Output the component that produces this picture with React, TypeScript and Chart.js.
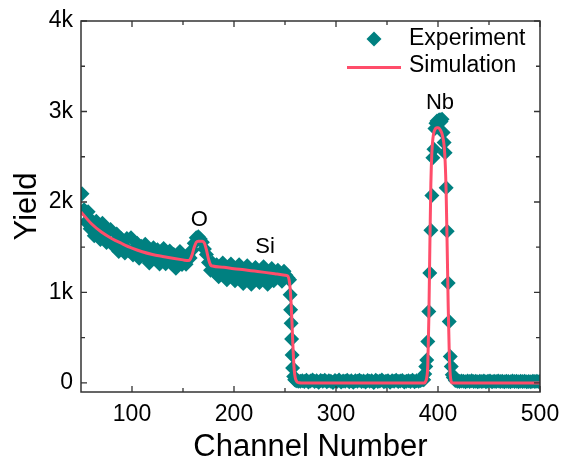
import React, { useEffect, useRef } from 'react';
import { Chart, registerables } from 'chart.js';

Chart.register(...registerables);

// ---------- data ----------
const expChannel = [
  51, 53, 55, 57, 59, 61, 63, 65, 67, 69,
  71, 73, 75, 77, 79, 81, 83, 85, 87, 89,
  91, 93, 95, 97, 99, 101, 103, 105, 107, 109,
  111, 113, 115, 117, 119, 121, 123, 125, 127, 129,
  131, 133, 135, 137, 139, 141, 143, 145, 147, 149,
  151, 153, 155, 157, 159, 161, 163, 165, 167, 169,
  171, 173, 175, 177, 179,
  181, 183, 185, 187, 189, 191, 193, 195, 197, 199,
  201, 203, 205, 207, 209, 211, 213, 215, 217, 219,
  221, 223, 225, 227, 229, 231, 233, 235, 237, 239,
  241, 243, 245, 247, 249, 251, 253,
  254.5, 255, 255.5, 256, 256.5, 257, 257.5, 258.5, 259.5, 261, 263, 265,
  267, 269, 271, 273, 275, 277, 279, 281, 283, 285,
  287, 289, 291, 293, 295, 297, 299, 301, 303, 305,
  307, 309, 311, 313, 315, 317, 319, 321, 323, 325,
  327, 329, 331, 333, 335, 337, 339, 341, 343, 345,
  347, 349, 351, 353, 355, 357, 359, 361, 363, 365,
  367, 369, 371, 373, 375, 377, 379, 381, 383, 385,
  386, 387, 388, 389, 390, 391, 392, 393, 394, 395,
  396, 397, 398, 399, 400, 401, 402, 403, 404, 405,
  406, 407, 408, 409, 410, 411, 412, 413, 414,
  415, 417, 419, 421, 423, 425, 427, 429, 431, 433,
  435, 437, 439, 441, 443, 445, 447, 449, 451, 453,
  455, 457, 459, 461, 463, 465, 467, 469, 471, 473,
  475, 477, 479, 481, 483, 485, 487, 489, 491, 493,
  495, 497, 499, 500,
];

const expYield = [
  2090, 1915, 1780, 1891, 1703, 1789, 1626, 1788, 1703, 1584,
  1764, 1612, 1552, 1679, 1697, 1525, 1560, 1646, 1453, 1598,
  1567, 1436, 1596, 1461, 1604, 1414, 1485, 1543, 1379, 1511,
  1412, 1533, 1371, 1326, 1458, 1494, 1367, 1472, 1315, 1415,
  1485, 1318, 1352, 1457, 1318, 1420, 1268, 1399, 1452, 1310,
  1385, 1312, 1415, 1380, 1470, 1545, 1605, 1615, 1590, 1555,
  1480, 1420, 1330, 1245, 1325,
  1225, 1305, 1175, 1255, 1325, 1205, 1140, 1285, 1315, 1195,
  1130, 1265, 1305, 1165, 1100, 1235, 1295, 1175, 1090, 1215,
  1275, 1145, 1110, 1245, 1285, 1155, 1090, 1215, 1265, 1130,
  1165, 1245, 1200, 1125, 1235, 1190, 1160,
  1140, 975, 810, 660, 485, 310, 165, 70, 35, 24, 20, 19,
  24, 16, 29, 11, 22, 33, 15, 25, 9, 27,
  18, 31, 13, 24, 20, 6, 27, 16, 33, 11,
  22, 18, 29, 13, 24, 9, 25, 20, 31, 15,
  22, 11, 27, 18, 24, 6, 29, 16, 22, 33,
  13, 20, 25, 9, 24, 18, 31, 15, 22, 27,
  11, 20, 25, 16, 29, 13, 24, 18, 27, 38,
  35, 100, 181, 255, 458, 790, 1215, 1688, 2072, 2490,
  2582, 2811, 2870, 2896, 2880, 2905, 2910, 2890, 2914, 2767,
  2656, 2545, 2157, 1676, 1105, 679, 291, 181, 90,
  60, 28, 20, 16, 22, 18, 14, 21, 17, 23,
  15, 19, 12, 20, 16, 22, 14, 18, 21, 13,
  19, 16, 22, 15, 18, 12, 20, 17, 14, 21,
  16, 19, 13, 18, 15, 20, 14, 17, 12, 19,
  16, 18, 14, 17,
];

const simChannel = [
  50, 60, 70, 80, 90, 100, 110, 120, 130, 140,
  150, 155, 157, 159, 161, 163, 165, 169, 171, 173,
  175, 177, 179, 190, 200, 210, 220, 230, 240, 250,
  252, 253, 254, 255, 256, 257, 258, 259, 260, 261,
  262, 264, 266, 387, 388, 389, 390, 391, 392, 393,
  394, 395, 396, 397, 398, 399, 400, 401, 402, 403,
  404, 405, 406, 407, 408, 409, 410, 411, 412, 413,
  414, 500,
];

const simYield = [
  1890, 1762, 1668, 1597, 1541, 1490, 1450, 1420, 1398, 1378,
  1360, 1352, 1365, 1420, 1500, 1555, 1567, 1567, 1545, 1470,
  1370, 1305, 1292, 1278, 1262, 1250, 1236, 1222, 1207, 1190,
  1185, 1178, 1140, 1050, 880, 620, 350, 150, 60, 25,
  10, 2, 0, 0, 20, 60, 200, 700, 1500, 2200,
  2550, 2700, 2770, 2800, 2815, 2820, 2820, 2815, 2800, 2780,
  2750, 2700, 2620, 2450, 2100, 1500, 850, 350, 90, 15,
  0, 0,
];

const xMajorTicks = [100, 200, 300, 400, 500];
const xMinorTicks = [150, 250, 350, 450];
const yMajorTicks = [0, 1000, 2000, 3000, 4000];
const yMinorTicks = [500, 1500, 2500, 3500];
const yTickLabels = ['0', '1k', '2k', '3k', '4k'];

const peakLabels = ['O', 'Si', 'Nb'];
const peakLabelChannel = [166, 230.5, 402];
const peakLabelYield = [1798, 1500, 3099];

const legendLabels = ['Experiment', 'Simulation'];

// ---------- style ----------
const FONT = '"Liberation Sans", Arial, Helvetica, sans-serif';
const TEAL = '#008080';
const SIM = '#ff4d6a';
const AXIS = '#333333';

const overlayPlugin = {
  id: 'overlay',
  afterDraw(chart: any) {
    const { ctx, chartArea } = chart;
    const xs = chart.scales.x;
    const ys = chart.scales.y;
    const { left, right, top, bottom } = chartArea;
    ctx.save();
    ctx.strokeStyle = AXIS;
    ctx.lineWidth = 1.5;
    ctx.strokeRect(left, top, right - left, bottom - top);
    const tick = (vals: number[], len: number) => {
      ctx.beginPath();
      vals.forEach((v) => {
        const px = xs.getPixelForValue(v);
        ctx.moveTo(px, bottom);
        ctx.lineTo(px, bottom - len);
        ctx.moveTo(px, top);
        ctx.lineTo(px, top + len);
      });
      ctx.stroke();
    };
    const tickY = (vals: number[], len: number) => {
      ctx.beginPath();
      vals.forEach((v) => {
        const py = ys.getPixelForValue(v);
        ctx.moveTo(left, py);
        ctx.lineTo(left + len, py);
        ctx.moveTo(right, py);
        ctx.lineTo(right - len, py);
      });
      ctx.stroke();
    };
    ctx.lineWidth = 1.3;
    tick(xMajorTicks, 6);
    tick(xMinorTicks, 4);
    tickY(yMajorTicks, 6);
    tickY(yMinorTicks, 4);

    ctx.fillStyle = '#000';
    ctx.font = `22px ${FONT}`;
    ctx.textAlign = 'center';
    ctx.textBaseline = 'middle';
    peakLabels.forEach((t, i) => {
      ctx.fillText(t, xs.getPixelForValue(peakLabelChannel[i]), ys.getPixelForValue(peakLabelYield[i]));
    });

    const dx = right - 166;
    const dy = top + 18;
    ctx.fillStyle = TEAL;
    ctx.beginPath();
    ctx.moveTo(dx, dy - 7.5);
    ctx.lineTo(dx + 7.5, dy);
    ctx.lineTo(dx, dy + 7.5);
    ctx.lineTo(dx - 7.5, dy);
    ctx.closePath();
    ctx.fill();
    ctx.strokeStyle = SIM;
    ctx.lineWidth = 3;
    ctx.beginPath();
    ctx.moveTo(right - 193, top + 46.5);
    ctx.lineTo(right - 139, top + 46.5);
    ctx.stroke();
    ctx.fillStyle = '#000';
    ctx.font = `23px ${FONT}`;
    ctx.textAlign = 'left';
    ctx.fillText(legendLabels[0], right - 131, top + 17.5);
    ctx.fillText(legendLabels[1], right - 131, top + 45);
    ctx.restore();
  },
};

export default function App() {
  const ref = useRef<HTMLCanvasElement | null>(null);
  useEffect(() => {
    if (!ref.current) return;
    const expData = expChannel.map((c, i) => ({ x: c, y: expYield[i] }));
    const simData = simChannel.map((c, i) => ({ x: c, y: simYield[i] }));
    const chart = new Chart(ref.current, {
      type: 'scatter',
      data: {
        datasets: [
          {
            label: legendLabels[1],
            data: simData,
            showLine: true,
            borderColor: SIM,
            borderWidth: 3,
            pointRadius: 0,
            cubicInterpolationMode: 'monotone',
            order: 0,
          } as any,
          {
            label: legendLabels[0],
            data: expData,
            showLine: false,
            pointStyle: 'rectRot',
            pointRadius: 7.5,
            pointBackgroundColor: TEAL,
            pointBorderWidth: 0,
            pointBorderColor: TEAL,
            order: 1,
          } as any,
        ],
      },
      options: {
        animation: false,
        responsive: false,
        maintainAspectRatio: false,
        events: [],
        layout: { padding: { left: 0, top: 21, right: 21, bottom: 0 } },
        plugins: { legend: { display: false }, tooltip: { enabled: false } },
        scales: {
          x: {
            type: 'linear',
            min: 50,
            max: 500,
            grid: { display: false, drawTicks: false },
            border: { display: false },
            afterBuildTicks: (s: any) => {
              s.ticks = xMajorTicks.map((v) => ({ value: v }));
            },
            afterFit: (s: any) => {
              s.height = 72;
              s.paddingLeft = 0;
              s.paddingRight = 0;
            },
            ticks: {
              padding: 9,
              color: '#000',
              maxRotation: 0,
              autoSkip: false,
              font: { family: FONT, size: 23 },
            },
            title: {
              display: true,
              text: 'Channel Number',
              color: '#000',
              font: { family: FONT, size: 31, lineHeight: 1 },
              padding: { top: 0, bottom: 1.5 },
            },
          },
          y: {
            type: 'linear',
            min: -100,
            max: 4000,
            grid: { display: false, drawTicks: false },
            border: { display: false },
            afterBuildTicks: (s: any) => {
              s.ticks = yMajorTicks.map((v) => ({ value: v }));
            },
            afterFit: (s: any) => {
              s.width = 81;
              s.paddingTop = 0;
              s.paddingBottom = 0;
            },
            ticks: {
              padding: 8,
              color: '#000',
              font: { family: FONT, size: 23 },
              callback: (v: any) => {
                const i = yMajorTicks.indexOf(Number(v));
                return i >= 0 ? yTickLabels[i] : '';
              },
            },
            title: {
              display: true,
              text: 'Yield',
              color: '#000',
              font: { family: FONT, size: 31, lineHeight: 1 },
              padding: { top: 12, bottom: 0 },
            },
          },
        },
      } as any,
      plugins: [overlayPlugin],
    });
    return () => chart.destroy();
  }, []);
  return (
    <div style={{ position: 'absolute', left: 0, top: 0, width: 561, height: 464, background: '#fff' }}>
      <canvas ref={ref} width={561} height={464} />
    </div>
  );
}
